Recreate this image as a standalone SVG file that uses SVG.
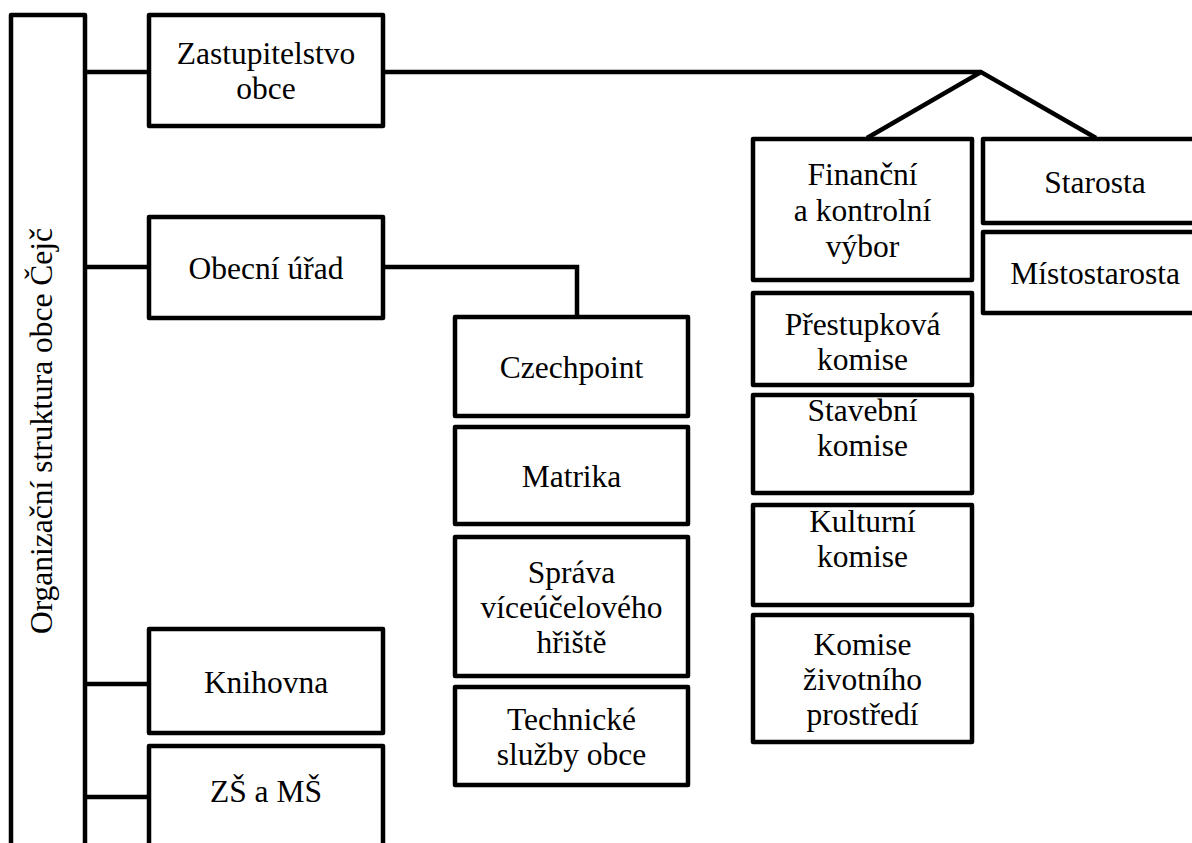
<svg xmlns="http://www.w3.org/2000/svg" width="1192" height="843" viewBox="0 0 1192 843">
<style>
.b{fill:#ffffff;stroke:#000000;stroke-width:4.5;stroke-linejoin:round}
.t{font-family:'Liberation Serif';font-size:31.5px;fill:#000000;text-anchor:middle}
.c{fill:none;stroke:#000000;stroke-width:4.5}
</style>
<rect width="1192" height="843" fill="#ffffff"/>
<g id="connectors">
<path class="c" d="M85 72H149M85 267H149M85 684H149M85 797H149"/>
<path class="c" d="M383 72H981M867 138L981 72L1096 138"/>
<path class="c" d="M383 267H577V317"/>
</g>
<g id="root"><rect class="b" x="11" y="15" width="74" height="850"/><text class="t" transform="translate(52 431) rotate(-90)">Organizační struktura obce Čejč</text></g>
<g id="zastupitelstvo"><rect class="b" x="149" y="15" width="234" height="111"/><text class="t" x="266" y="64">Zastupitelstvo</text><text class="t" x="266" y="99">obce</text></g>
<g id="obecni-urad"><rect class="b" x="149" y="217" width="234" height="101"/><text class="t" x="266" y="279">Obecní úřad</text></g>
<g id="knihovna"><rect class="b" x="149" y="629" width="234" height="104"/><text class="t" x="266" y="693">Knihovna</text></g>
<g id="zs-ms"><rect class="b" x="149" y="746" width="234" height="120"/><text class="t" x="266" y="802">ZŠ a MŠ</text></g>
<g id="czechpoint"><rect class="b" x="455" y="317" width="233" height="99"/><text class="t" x="571.5" y="378">Czechpoint</text></g>
<g id="matrika"><rect class="b" x="455" y="427" width="233" height="97"/><text class="t" x="571.5" y="487">Matrika</text></g>
<g id="sprava"><rect class="b" x="455" y="537" width="233" height="139"/><text class="t" x="571.5" y="583">Správa</text><text class="t" x="571.5" y="618">víceúčelového</text><text class="t" x="571.5" y="653">hřiště</text></g>
<g id="technicke"><rect class="b" x="455" y="687" width="233" height="98"/><text class="t" x="571.5" y="730">Technické</text><text class="t" x="571.5" y="765">služby obce</text></g>
<g id="financni"><rect class="b" x="753" y="139" width="219" height="141"/><text class="t" x="862.5" y="185">Finanční</text><text class="t" x="862.5" y="221">a kontrolní</text><text class="t" x="862.5" y="257">výbor</text></g>
<g id="prestupkova"><rect class="b" x="753" y="293" width="219" height="92"/><text class="t" x="862.5" y="335">Přestupková</text><text class="t" x="862.5" y="370">komise</text></g>
<g id="stavebni"><rect class="b" x="753" y="395" width="219" height="98"/><text class="t" x="862.5" y="421">Stavební</text><text class="t" x="862.5" y="456">komise</text></g>
<g id="kulturni"><rect class="b" x="753" y="505" width="219" height="100"/><text class="t" x="862.5" y="532">Kulturní</text><text class="t" x="862.5" y="567">komise</text></g>
<g id="zivotni"><rect class="b" x="753" y="615" width="219" height="127"/><text class="t" x="862.5" y="655">Komise</text><text class="t" x="862.5" y="690">životního</text><text class="t" x="862.5" y="725">prostředí</text></g>
<g id="starosta"><rect class="b" x="983" y="139" width="226" height="84"/><text class="t" x="1095" y="193">Starosta</text></g>
<g id="mistostarosta"><rect class="b" x="983" y="232" width="226" height="81"/><text class="t" x="1095" y="284">Místostarosta</text></g>
</svg>
